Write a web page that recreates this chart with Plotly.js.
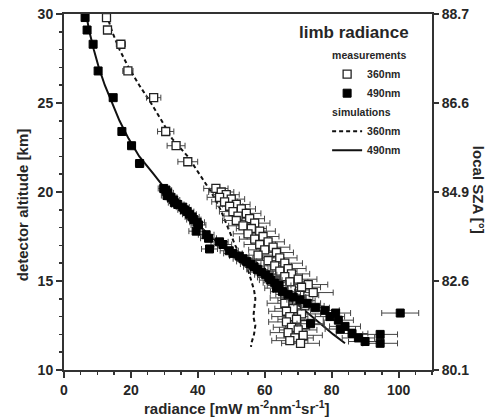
<!DOCTYPE html>
<html>
<head>
<meta charset="utf-8">
<script src="https://cdn.plot.ly/plotly-3.0.1.min.js"></script>
<style>html,body{margin:0;padding:0;background:#fff}#chart{width:491px;height:419px}</style>
</head>
<body>
<div id="chart"></div>
<script>
// measurements 360 nm: radiance and altitude
var meas360_r = [12.7,13.0,17.0,19.1,26.8,30.4,33.5,37.0,45.4,47.0,48.5,46.5,50.0,48.0,51.5,49.5,53.0,50.5,54.5,52.0,55.5,51.5,57.0,53.5,56.0,58.5,55.0,59.5,57.0,61.0,58.5,62.5,60.0,63.5,58.0,64.5,61.0,66.0,63.0,67.0,64.5,68.0,66.0,70.0,67.5,73.0,71.0,68.0,74.5,70.5,67.0,69.5,66.0,72.0,68.5,66.5,71.0,67.5,69.5,66.5,72.0,68.0,70.0,67.0,71.5,69.0,67.5,70.7];
var meas360_alt = [29.8,29.1,28.3,26.8,25.3,23.4,22.6,21.7,20.2,20.0,19.85,19.7,19.6,19.45,19.3,19.2,19.05,18.9,18.8,18.65,18.5,18.4,18.25,18.1,17.95,17.8,17.65,17.5,17.35,17.2,17.05,16.9,16.75,16.6,16.45,16.3,16.15,16.0,15.85,15.7,15.55,15.4,15.25,15.1,14.95,14.8,14.65,14.5,14.35,14.2,14.05,13.9,13.75,13.6,13.45,13.3,13.15,13.0,12.85,12.7,12.55,12.4,12.25,12.1,11.95,11.8,11.65,11.5];
// measurements 490 nm
var meas490_r = [6.3,6.9,8.7,10.2,14.7,17.3,20.2,22.6,29.8,30.5,31.0,30.8,32.0,32.8,33.0,34.0,35.5,36.0,36.8,37.5,38.3,38.8,39.8,40.2,39.5,42.5,43.2,46.5,47.5,43.5,49.4,50.5,52.4,53.5,54.6,55.8,56.8,57.8,59.0,60.3,61.2,61.8,63.0,64.3,63.5,65.3,67.0,68.5,70.5,72.7,75.2,78.0,81.2,100.5,79.5,82.0,73.7,84.0,82.6,86.1,94.5,88.0,90.0,94.5];
var meas490_alt = [29.8,29.1,28.3,26.8,25.3,23.4,22.6,21.6,20.2,20.1,19.95,19.8,19.7,19.55,19.4,19.3,19.15,19.0,18.9,18.75,18.6,18.45,18.3,18.15,17.8,17.6,17.4,17.2,17.05,16.8,16.7,16.55,16.4,16.25,16.1,15.95,15.8,15.65,15.5,15.35,15.2,15.05,14.9,14.75,14.6,14.4,14.25,14.1,13.95,13.75,13.5,13.35,13.2,13.2,13.0,12.8,12.6,12.45,12.3,12.05,12.0,11.8,11.6,11.5];
// simulations
var sim360_r = [12.7,14.4,16.6,19.3,22.5,26.0,29.2,32.3,37.0,40.5,44.0,46.8,49.0,51.2,53.8,55.2,56.0,56.8,57.2,57.0,56.6,57.2,56.8,56.0,55.9];
var sim360_alt = [30,29,28,27,26,25,24,23,22,21,20,19,18,17,16,15.5,15,14.5,14,13.5,13,12.5,12,11.5,11.3];
var sim490_r = [6.6,7.6,8.9,10.4,12.2,14.3,16.6,19.3,22.5,26.8,31.0,35.8,41.0,46.8,53.2,61.5,67.8,74.0,80.5,84.0];
var sim490_alt = [30,29,28,27,26,25,24,23,22,21,20,19,18,17,16,15,14,13,12,11.5];
// right axis (local SZA) tick labels
var szaTickAlt = [10,15,20,25,30];
var szaTickText = ['80.1','82.6','84.9','86.6','88.7'];

var FONT = 'Liberation Sans, Arial, sans-serif';
var INK = '#262626';

var traces = [
  {x: sim360_r, y: sim360_alt, mode:'lines', name:'360nm', legendgroup:'sim',
   legendgrouptitle:{text:'simulations', font:{family:FONT,size:10.5,weight:'bold',color:INK}},
   legendrank:3, line:{color:'#111', width:2, dash:'4px,3px'}},
  {x: sim490_r, y: sim490_alt, mode:'lines', name:'490nm', legendgroup:'sim',
   legendrank:4, line:{color:'#111', width:2}},
  {x: meas360_r, y: meas360_alt, mode:'markers', name:'360nm', legendgroup:'meas',
   legendgrouptitle:{text:'measurements', font:{family:FONT,size:10.5,weight:'bold',color:INK}},
   legendrank:1,
   marker:{symbol:'square', size:8, color:'#fff', line:{color:'#222', width:1.3}},
   error_x:{type:'percent', value:8, color:'#444', thickness:1, width:3}},
  {x: meas490_r, y: meas490_alt, mode:'markers', name:'490nm', legendgroup:'meas',
   legendrank:2,
   marker:{symbol:'square', size:8, color:'#000', line:{color:'#000', width:1}},
   error_x:{type:'percent', value:5.5, color:'#444', thickness:1, width:3}},
  {x:[null], y:[null], yaxis:'y2', showlegend:false, hoverinfo:'skip', mode:'markers'}
];

var tickfont = {family:FONT, size:14, weight:'bold', color:INK};
var titlefont = {family:FONT, size:15, weight:'bold', color:INK};

var layout = {
  width:491, height:419,
  margin:{l:64, r:59, t:14, b:49},
  paper_bgcolor:'#fff', plot_bgcolor:'#fff',
  showlegend:true,
  legend:{x:0.715, y:0.925, xanchor:'left', yanchor:'top', bgcolor:'rgba(0,0,0,0)',
          font:{family:FONT, size:10.5, weight:'bold', color:INK},
          tracegroupgap:0, itemwidth:30, traceorder:'grouped'},
  xaxis:{range:[0,110], tick0:0, dtick:20, showgrid:false, zeroline:false,
         showline:true, linecolor:'#333', linewidth:2, mirror:true,
         ticks:'outside', ticklen:6, tickwidth:2, tickcolor:'#333',
         minor:{dtick:5, ticks:'outside', ticklen:3, tickwidth:1.5, tickcolor:'#333'},
         tickfont:tickfont},
  yaxis:{range:[10,30], tick0:10, dtick:5, showgrid:false, zeroline:false,
         showline:true, linecolor:'#333', linewidth:2,
         ticks:'outside', ticklen:6, tickwidth:2, tickcolor:'#333',
         minor:{dtick:1, ticks:'outside', ticklen:3, tickwidth:1.5, tickcolor:'#333'},
         tickfont:tickfont},
  yaxis2:{overlaying:'y', side:'right', range:[10,30], tickmode:'array',
          tickvals:szaTickAlt, ticktext:szaTickText, showgrid:false, zeroline:false,
          showline:true, linecolor:'#333', linewidth:2,
          ticks:'outside', ticklen:5, tickwidth:2, tickcolor:'#333',
          tickfont:tickfont},
  annotations:[
    {text:'limb radiance', xref:'paper', yref:'paper', x:0.633, y:0.947,
     xanchor:'left', yanchor:'middle', showarrow:false,
     font:{family:FONT, size:17, weight:'bold', color:INK}},
    {text:'radiance [mW m<sup>-2</sup>nm<sup>-1</sup>sr<sup>-1</sup>]', xref:'paper', yref:'paper',
     x:0.47, y:-0.105, xanchor:'center', yanchor:'middle', showarrow:false, font:titlefont},
    {text:'detector altitude [km]', xref:'paper', yref:'paper', x:-0.114, y:0.463,
     xanchor:'center', yanchor:'middle', textangle:-90, showarrow:false, font:titlefont},
    {text:'local SZA [°]', xref:'paper', yref:'paper', x:1.125, y:0.506,
     xanchor:'center', yanchor:'middle', textangle:90, showarrow:false, font:titlefont}
  ]
};

Plotly.newPlot('chart', traces, layout, {staticPlot:true, displayModeBar:false});
</script>
</body>
</html>
